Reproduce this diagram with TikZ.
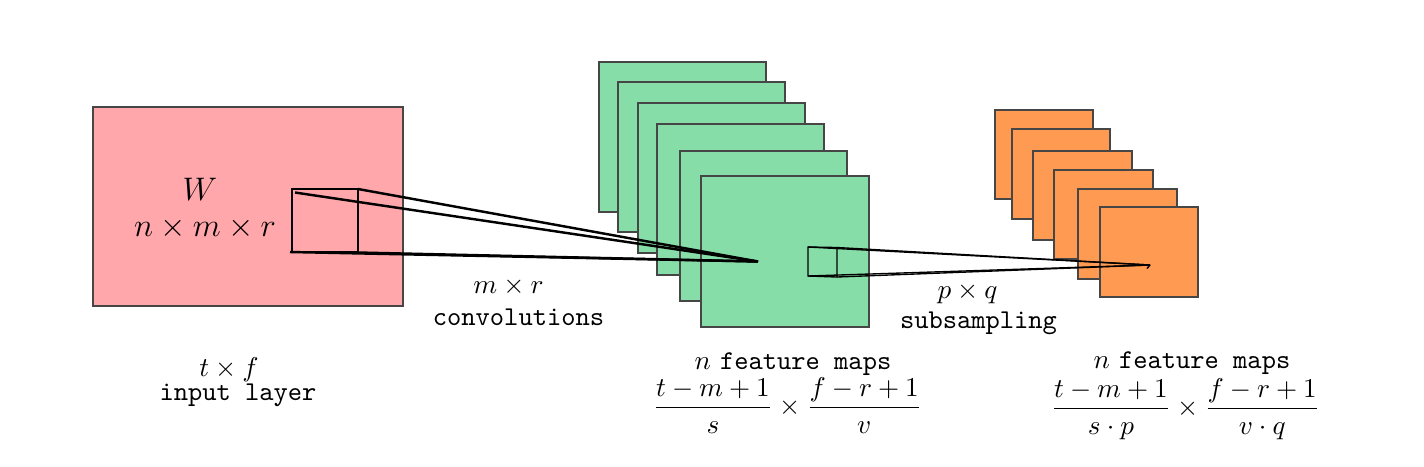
\documentclass[tikz,border=0pt]{standalone}
\usepackage{amsmath}
\definecolor{pinkc}{RGB}{255,167,170}
\definecolor{greenc}{RGB}{135,221,168}
\definecolor{orangec}{RGB}{255,154,82}
\definecolor{edgec}{RGB}{70,70,70}
\begin{document}
\begin{tikzpicture}[x=0.368pt,y=-0.368pt,
  layerbox/.style={draw=edgec, line width=0.45pt},
  conethick/.style={draw=black, line width=0.9pt},
  conethin/.style={draw=black, line width=0.5pt},
  lab/.style={inner sep=0pt, outer sep=0pt, anchor=base, align=center}]
\useasboundingbox (0,0) rectangle (1424,466);
% input layer
\draw[layerbox, fill=pinkc] (93,107) rectangle (403,306);
% feature maps (green)
\draw[layerbox, fill=greenc] (599,62) rectangle (766,212);
\draw[layerbox, fill=greenc] (618,82) rectangle (785,232);
\draw[layerbox, fill=greenc] (638,103) rectangle (805,253);
\draw[layerbox, fill=greenc] (657,124) rectangle (824,275);
\draw[layerbox, fill=greenc] (680,151) rectangle (847,301);
\draw[layerbox, fill=greenc] (701,176) rectangle (869,327);
% subsampled maps (orange)
\draw[layerbox, fill=orangec] (995,110) rectangle (1093,199);
\draw[layerbox, fill=orangec] (1012,129) rectangle (1110,219);
\draw[layerbox, fill=orangec] (1033,151) rectangle (1132,240);
\draw[layerbox, fill=orangec] (1054,170) rectangle (1153,259);
\draw[layerbox, fill=orangec] (1078,189) rectangle (1177,279);
\draw[layerbox, fill=orangec] (1100,207) rectangle (1198,297);
% convolution cone
\coordinate (c1tl) at (292,189);
\coordinate (c1tli) at (295,192.5);
\coordinate (c1tr) at (358,189);
\coordinate (c1bl) at (290,252);
\coordinate (c1br) at (358,252.5);
\coordinate (a1) at (758,261.5);
\draw[conethick] (c1tl) rectangle (358,252);
\draw[conethick] (c1tli) -- (a1);
\draw[conethick] (c1tr) -- (a1);
\draw[conethick] (c1bl) -- (a1);
\draw[conethick] (c1br) -- (a1);
% subsampling cone
\coordinate (c2tl) at (808,247);
\coordinate (c2tr) at (837,247.5);
\coordinate (c2bl) at (808,276);
\coordinate (c2br) at (837,277);
\coordinate (a2) at (1150,265);
\coordinate (a2t) at (1147,268.5);
\draw[conethin] (c2tl) -- (c2tr) -- (c2br) -- (c2bl) -- cycle;
\draw[conethin] (c2tl) -- (a2);
\draw[conethin] (c2tr) -- (a2);
\draw[conethin] (c2bl) -- (a2);
\draw[conethin] (c2br) -- (a2);
\draw[conethin] (a2) -- (a2t);
% labels
\node[lab] (W) at (200,200) {\large $W$};
\node[lab] (nmr) at (205,236.5) {\large $n\times m\times r$};
\node[lab] (tf) at (229,376) {$t\times f$};
\node[lab] (inl) at (238,400) {\texttt{input layer}};
\node[lab] (mr) at (508.5,293) {$m\times r$};
\node[lab] (conv) at (518.5,325) {\texttt{convolutions}};
\node[lab] (pq) at (967.5,298) {$p\times q$};
\node[lab] (sub) at (978.5,328) {\texttt{subsampling}};
\node[lab] (fm1) at (793,369.5) {$n$ \texttt{feature maps}};
\node[lab] (fr1) at (787.5,414.5) {$\dfrac{t-m+1}{s}\times\dfrac{f-r+1}{v}$};
\node[lab] (fm2) at (1192,368.5) {$n$ \texttt{feature maps}};
\node[lab] (fr2) at (1185.5,415.5) {$\dfrac{t-m+1}{s\cdot p}\times\dfrac{f-r+1}{v\cdot q}$};
\end{tikzpicture}
\end{document}
